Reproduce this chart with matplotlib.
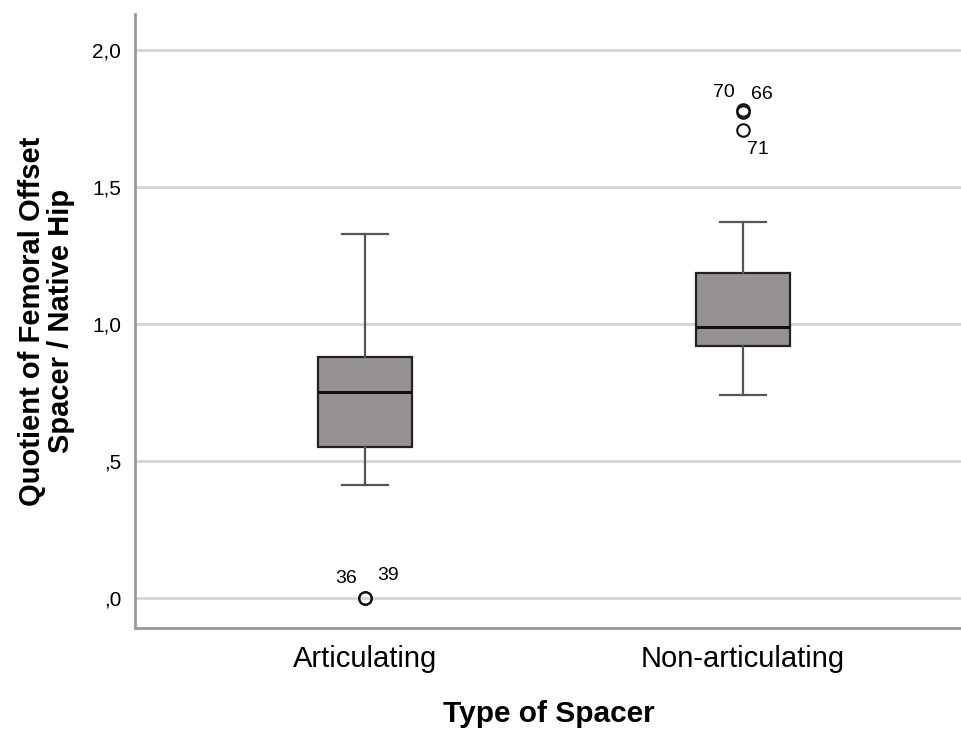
import numpy as np
import matplotlib
matplotlib.use("Agg")
import matplotlib.pyplot as plt

plt.rcParams['font.family'] = ['Liberation Sans', 'DejaVu Sans']

# data
categories = ["Articulating", "Non-articulating"]
whislo = [0.413, 0.739]
q1 = [0.551, 0.920]
med = [0.750, 0.989]
q3 = [0.880, 1.185]
whishi = [1.326, 1.373]
outliers = [[0.0, 0.0], [1.779, 1.771, 1.707]]
outlier_ids = [["36", "39"], ["70", "66", "71"]]
yticks = [0.0, 0.5, 1.0, 1.5, 2.0]
yticklabels = [",0", ",5", "1,0", "1,5", "2,0"]

stats = []
for i in range(len(categories)):
    stats.append(dict(label=categories[i], whislo=whislo[i], q1=q1[i], med=med[i],
                      q3=q3[i], whishi=whishi[i], fliers=outliers[i]))

fig = plt.figure(figsize=(9.62, 7.29), dpi=100)
ax = fig.add_axes([135/962, 1 - 628/729, 1 - 135/962, (628 - 14)/729])

pos = np.arange(len(categories))
ax.bxp(stats, positions=pos, widths=0.25, capwidths=0.12, patch_artist=True,
       boxprops=dict(facecolor="#969292", edgecolor="#222222", linewidth=1.6),
       medianprops=dict(color="#111111", linewidth=2.2),
       whiskerprops=dict(color="#555555", linewidth=1.6),
       capprops=dict(color="#555555", linewidth=1.6),
       flierprops=dict(marker="o", markerfacecolor="none", markeredgecolor="#111111",
                       markersize=9, markeredgewidth=1.5),
       zorder=3)

# outlier case numbers
fs = 14
ax.text(pos[0] - 0.05, outliers[0][0] + 0.04, outlier_ids[0][0], ha="center", va="bottom", fontsize=fs)
ax.text(pos[0] + 0.06, outliers[0][1] + 0.05, outlier_ids[0][1], ha="center", va="bottom", fontsize=fs)
ax.text(pos[1] - 0.05, outliers[1][0] + 0.035, outlier_ids[1][0], ha="center", va="bottom", fontsize=fs)
ax.text(pos[1] + 0.05, outliers[1][1] + 0.035, outlier_ids[1][1], ha="center", va="bottom", fontsize=fs)
ax.text(pos[1] + 0.04, outliers[1][2] - 0.04, outlier_ids[1][2], ha="center", va="top", fontsize=fs)

ax.set_xlim(-0.608, 1.579)
ax.set_ylim(-0.109, 2.13)
ax.set_xticks(pos)
ax.set_xticklabels(categories, fontsize=21)
ax.set_yticks(yticks)
ax.set_yticklabels(yticklabels, fontsize=15)
ax.tick_params(axis="x", length=0, pad=12)
ax.tick_params(axis="y", length=0, pad=10)

ax.grid(axis="y", color="#d4d4d4", linewidth=2, zorder=0)
ax.set_axisbelow(True)
for s in ["top", "right"]:
    ax.spines[s].set_visible(False)
for s in ["left", "bottom"]:
    ax.spines[s].set_color("#999999")
    ax.spines[s].set_linewidth(2)

ax.set_ylabel("Quotient of Femoral Offset\nSpacer / Native Hip", fontsize=21, fontweight="bold",
              linespacing=1.05, labelpad=12)
ax.set_xlabel("Type of Spacer", fontsize=21.5, fontweight="bold", labelpad=20)

fig.savefig("out.png", dpi=100)
